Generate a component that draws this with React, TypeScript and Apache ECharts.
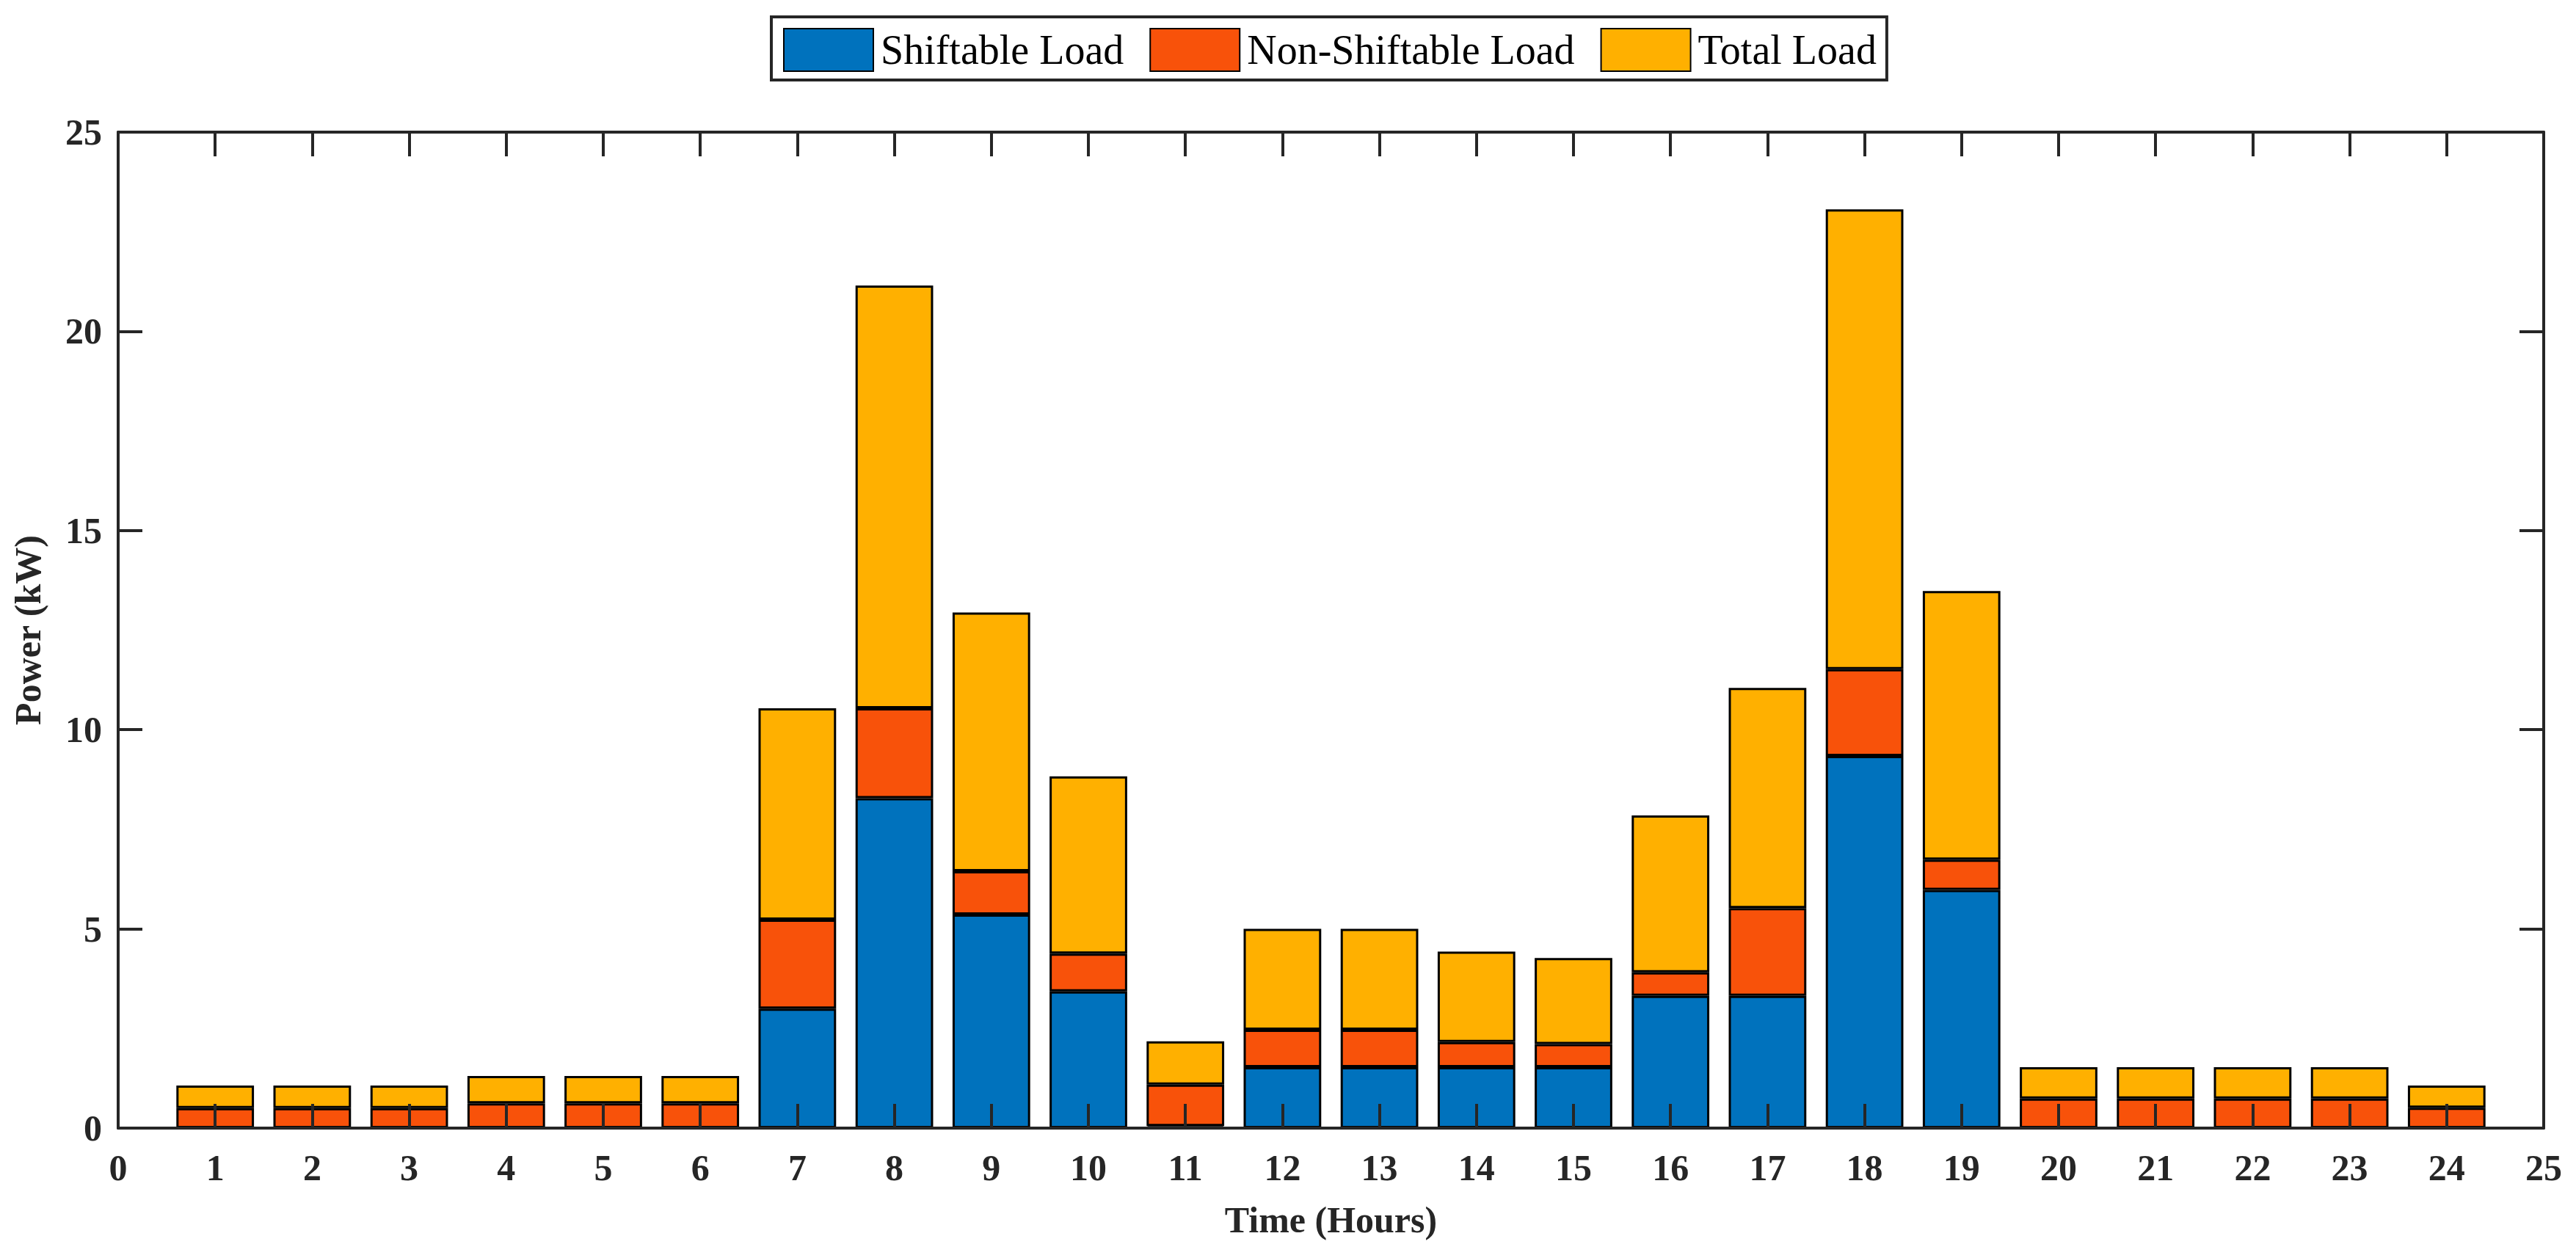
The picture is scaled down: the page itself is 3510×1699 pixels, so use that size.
import { useEffect, useRef } from 'react';
import * as echarts from 'echarts';

// x tick labels 0..25 (bars sit on 1..24)
const xTicks = ['0', '1', '2', '3', '4', '5', '6', '7', '8', '9', '10', '11', '12', '13', '14', '15', '16', '17', '18', '19', '20', '21', '22', '23', '24', '25'];
const hours = ['1', '2', '3', '4', '5', '6', '7', '8', '9', '10', '11', '12', '13', '14', '15', '16', '17', '18', '19', '20', '21', '22', '23', '24'];

// kW
const shiftable = [0, 0, 0, 0, 0, 0, 3.0, 8.28, 5.36, 3.43, 0.05, 1.53, 1.53, 1.53, 1.53, 3.32, 3.32, 9.34, 5.98, 0, 0, 0, 0, 0];
const nonShiftable = [0.5, 0.5, 0.5, 0.62, 0.62, 0.62, 2.23, 2.26, 1.09, 0.95, 1.04, 0.94, 0.94, 0.63, 0.58, 0.59, 2.2, 2.18, 0.76, 0.74, 0.74, 0.74, 0.74, 0.51];
const totalLoad = [0.57, 0.57, 0.57, 0.69, 0.69, 0.69, 5.31, 10.61, 6.49, 4.45, 1.09, 2.53, 2.53, 2.27, 2.16, 3.94, 5.53, 11.54, 6.74, 0.79, 0.79, 0.79, 0.79, 0.56];

const seriesNames = ['Shiftable Load', 'Non-Shiftable Load', 'Total Load'];
const seriesColors = ['#0072BD', '#F8520A', '#FFB000'];

const INK = '#262626';
const FONT = '"Liberation Serif", "Times New Roman", serif';

export default function App() {
  const ref = useRef<HTMLDivElement>(null);

  useEffect(() => {
    if (!ref.current) return;
    const chart = echarts.init(ref.current, null, { renderer: 'svg' });

    const values = [shiftable, nonShiftable, totalLoad];

    const axisLine = { show: true, onZero: false, lineStyle: { color: INK, width: 4 } };
    const axisTick = { show: true, inside: true, length: 33, lineStyle: { color: INK, width: 4 } };
    const tickText = { color: INK, fontSize: 50, fontWeight: 'bold', fontFamily: FONT };

    const xBase = {
      type: 'category',
      data: xTicks,
      boundaryGap: false,
      z: 10,
      axisLine,
      axisTick: { ...axisTick, interval: 0 },
      splitLine: { show: false },
    };
    const yBase = {
      type: 'value',
      min: 0,
      max: 25,
      interval: 5,
      z: 10,
      axisLine,
      axisTick,
      splitLine: { show: false },
    };

    chart.setOption({
      animation: false,
      backgroundColor: '#FFFFFF',
      textStyle: { fontFamily: FONT },
      legend: {
        data: seriesNames,
        icon: 'rect',
        left: 1051,
        top: 23,
        orient: 'horizontal',
        itemWidth: 122,
        itemHeight: 58,
        itemGap: 35,
        padding: [15, 14, 11, 16],
        borderColor: INK,
        borderWidth: 4,
        backgroundColor: '#FFFFFF',
        textStyle: { color: '#000000', fontSize: 56, fontFamily: FONT, padding: [0, 0, 0, 5] },
      },
      grid: {
        left: 161,
        right: 44,
        top: 180,
        bottom: 162,
        containLabel: false,
        outerBoundsMode: 'none',
      },
      xAxis: [
        {
          ...xBase,
          position: 'bottom',
          name: 'Time (Hours)',
          nameLocation: 'middle',
          nameGap: 100,
          nameTextStyle: { color: INK, fontSize: 50, fontWeight: 'bold', fontFamily: FONT },
          axisLabel: { ...tickText, margin: 29, interval: 0 },
        },
        {
          ...xBase,
          position: 'top',
          axisLabel: { show: false },
        },
      ],
      yAxis: [
        {
          ...yBase,
          position: 'left',
          name: 'Power (kW)',
          nameLocation: 'middle',
          nameGap: 98,
          nameTextStyle: { color: INK, fontSize: 50, fontWeight: 'bold', fontFamily: FONT },
          axisLabel: { ...tickText, margin: 22 },
        },
        {
          ...yBase,
          position: 'right',
          axisLabel: { show: false },
        },
      ],
      series: seriesNames.map((name, i) => ({
        name,
        type: 'bar',
        stack: 'load',
        barWidth: '80%',
        xAxisIndex: 0,
        yAxisIndex: 0,
        itemStyle: { color: seriesColors[i], borderColor: '#000000', borderWidth: 3 },
        data: xTicks.map((t) => {
          const k = hours.indexOf(t);
          return k < 0 ? null : values[i][k];
        }),
      })),
    });

    return () => chart.dispose();
  }, []);

  return <div ref={ref} style={{ position: 'absolute', left: 0, top: 0, width: 3510, height: 1699 }} />;
}
